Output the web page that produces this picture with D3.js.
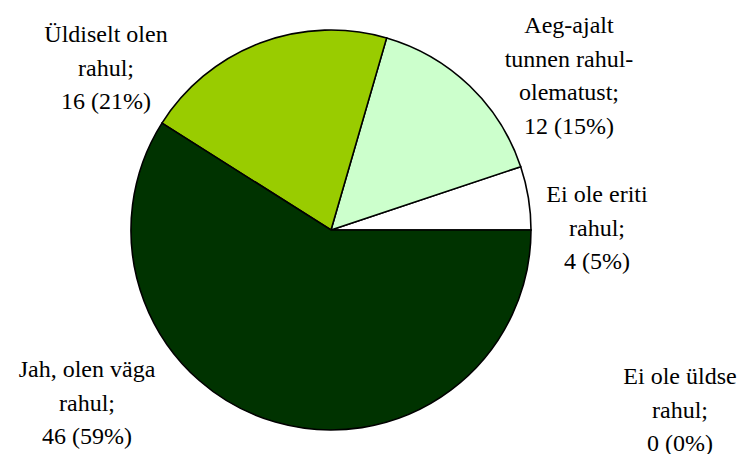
<!DOCTYPE html>
<html><head><meta charset="utf-8"><script src="https://cdn.jsdelivr.net/npm/d3@7"></script></head>
<body style="margin:0"><svg id="c" width="742" height="454"></svg>
<script>
const categories = ["Ei ole üldse rahul", "Ei ole eriti rahul", "Aeg-ajalt tunnen rahulolematust", "Üldiselt olen rahul", "Jah, olen väga rahul"];
const values = [0, 4, 12, 16, 46];
const percents = ["0%", "5%", "15%", "21%", "59%"];
const labelLines = [
  ["Ei ole üldse", "rahul;"],
  ["Ei ole eriti", "rahul;"],
  ["Aeg-ajalt", "tunnen rahul-", "olematust;"],
  ["Üldiselt olen", "rahul;"],
  ["Jah, olen väga", "rahul;"]
];
const colors = ["#ffffff", "#ffffff", "#ccffcc", "#99cc00", "#003300"];
// label anchor: center x, first baseline y
const labelPos = [[680, 384], [597, 202], [569, 33], [106, 42], [87, 377]];

const s = d3.select("#c");
const cx = 331, cy = 230, r = 200;
const g = s.append("g").attr("transform", "translate(" + cx + "," + cy + ")");

const pie = d3.pie().sort(null).value(d => d)
  .startAngle(Math.PI / 2).endAngle(Math.PI / 2 - 2 * Math.PI);
const arc = d3.arc().innerRadius(0).outerRadius(r);

g.selectAll("path").data(pie(values)).enter().append("path")
  .attr("d", arc)
  .attr("fill", (d, i) => colors[i])
  .attr("stroke", "#000")
  .attr("stroke-width", 1.6);

const lh = 33.6;
labelLines.forEach((lines, i) => {
  const all = lines.concat([values[i] + " (" + percents[i] + ")"]);
  all.forEach((str, j) => {
    const t = s.append("text")
      .attr("x", labelPos[i][0])
      .attr("y", labelPos[i][1] + j * lh)
      .attr("font-family", "Liberation Serif")
      .attr("font-size", 24)
      .text(str);
    const w = t.node().getComputedTextLength();
    t.attr("x", labelPos[i][0] - w / 2);
  });
});
</script></body></html>
